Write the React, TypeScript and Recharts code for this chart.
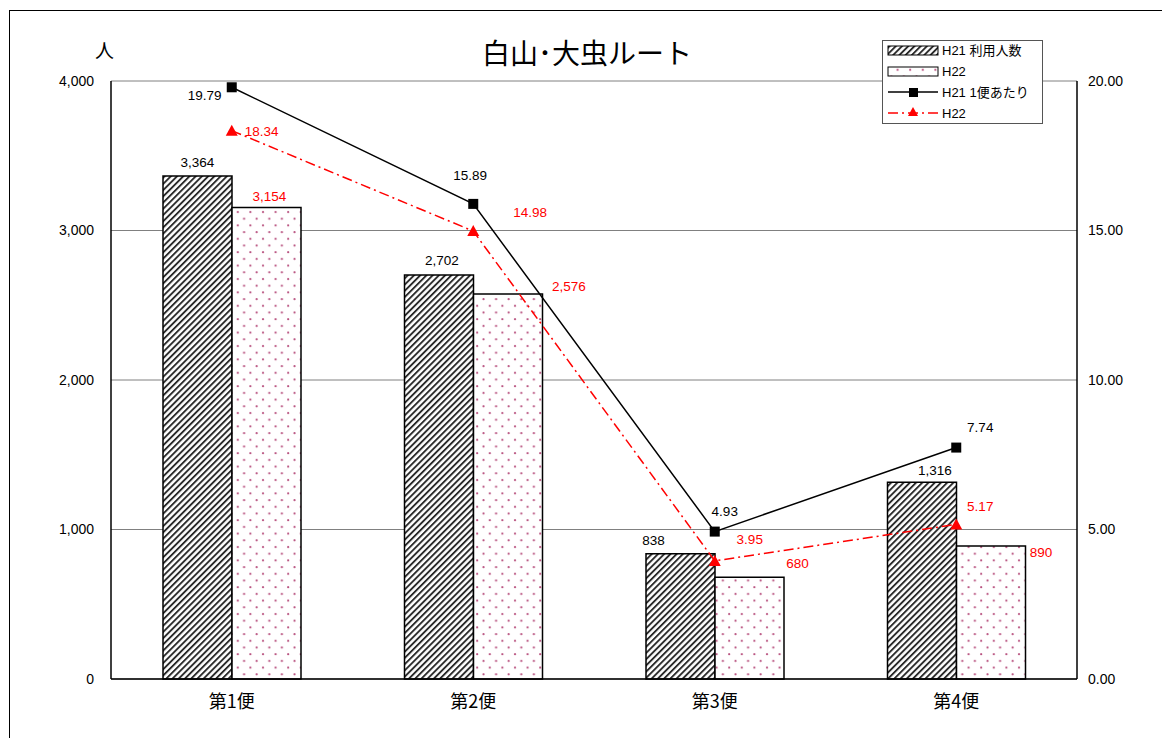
import React from 'react';
import { ComposedChart, Bar, Line, XAxis, YAxis, CartesianGrid, LabelList } from 'recharts';

const categories = ['第1便', '第2便', '第3便', '第4便'];
const usersH21 = [3364, 2702, 838, 1316];
const usersH22 = [3154, 2576, 680, 890];
const perTripH21 = [19.79, 15.89, 4.93, 7.74];
const perTripH22 = [18.34, 14.98, 3.95, 5.17];
const leftTicks = [0, 1000, 2000, 3000, 4000];
const rightTicks = [0, 5, 10, 15, 20];

// label nudges (px), hand-placed like the original
const offH21Bar = [[0, -14], [3, -15], [-27, -13], [13, -12]];
const offH22Bar = [[3, -11], [61, -7], [48, -14], [50, 7]];
const offH21Line = [[-27, 8], [-3, -28], [10, -20], [24, -20]];
const offH22Line = [[30, 1], [57, -19], [35, -21], [24, -18]];

const data = categories.map((c, i) => ({
  name: c,
  h21: usersH21[i],
  h22: usersH22[i],
  p21: perTripH21[i],
  p22: perTripH22[i],
}));

const RED = '#ff0000';
const FONT = '"Liberation Sans", Arial, "Noto Sans CJK JP", sans-serif';

const makeLabel = (offs: number[][], color: string, fmt: (v: number) => string, isBar: boolean) =>
  (props: any) => {
    const { x, y, width, value, index } = props;
    const cx = isBar ? x + width / 2 : x;
    const [dx, dy] = offs[index] || [0, 0];
    return (
      <text x={cx + dx} y={y + dy} textAnchor="middle" dominantBaseline="central"
        fontSize={13.5} fill={color} fontFamily={FONT}>
        {fmt(value)}
      </text>
    );
  };

const fmtInt = (v: number) => v.toLocaleString('en-US');
const fmt2 = (v: number) => v.toFixed(2);

const SquareDot = (props: any) => {
  const { cx, cy, index } = props;
  return <rect key={'s' + index} x={cx - 5} y={cy - 5} width={10} height={10} fill="#000" />;
};
const TriDot = (props: any) => {
  const { cx, cy, index } = props;
  return <path key={'t' + index} d={`M${cx},${cy - 6} L${cx + 6},${cy + 5} L${cx - 6},${cy + 5} Z`} fill={RED} />;
};

const LegendBox = () => (
  <svg width={162} height={85} style={{ display: 'block' }}>
    <rect x={0.5} y={0.5} width={160} height={83} fill="#fff" stroke="#555" />
    <rect x={6} y={6} width={50} height={9} fill="url(#hatch)" stroke="#000" />
    <rect x={6} y={27} width={50} height={9} fill="url(#dots)" stroke="#000" />
    <line x1={6} y1={52} x2={56} y2={52} stroke="#000" strokeWidth={1.5} />
    <rect x={27} y={48} width={9} height={9} fill="#000" />
    <line x1={6} y1={73} x2={56} y2={73} stroke={RED} strokeWidth={1.5} strokeDasharray="10 4 2 4" />
    <path d="M31,67 L36,76 L26,76 Z" fill={RED} />
    <g fontSize={13} fontFamily={FONT} fill="#000">
      <text x={60} y={15}>H21 利用人数</text>
      <text x={60} y={36}>H22</text>
      <text x={60} y={57}>H21 1便あたり</text>
      <text x={60} y={78}>H22</text>
    </g>
  </svg>
);

export default function App() {
  return (
    <div style={{ position: 'relative', width: 1162, height: 730, overflow: 'hidden', fontFamily: FONT }}>
      <div style={{ position: 'absolute', left: 1, top: 2, width: 1200, height: 800, borderLeft: '1px solid #000', borderTop: '1px solid #000' }} />
      <div style={{ position: 'absolute', left: 379, top: 26, width: 400, textAlign: 'center', fontSize: 28, fontFamily: '"Noto Sans CJK JP", sans-serif', lineHeight: '36px' }}>
        白山･大虫ルート
      </div>
      <div style={{ position: 'absolute', left: 87, top: 29, fontSize: 19, fontFamily: '"Noto Sans CJK JP", sans-serif', lineHeight: '26px' }}>人</div>
      <ComposedChart width={1162} height={730} data={data}
        margin={{ top: 73, right: 33, bottom: 29, left: 43 }}
        barCategoryGap={52} barGap={0}
        style={{ position: 'absolute', left: 0, top: 0 }}>
        <defs>
          <pattern id="hatch" patternUnits="userSpaceOnUse" width={4.4} height={4.4} patternTransform="rotate(45)">
            <rect width={4.4} height={4.4} fill="#fff" />
            <rect width={1.9} height={4.4} fill="#2a2a2a" />
          </pattern>
          <pattern id="dots" patternUnits="userSpaceOnUse" width={12.6} height={13.4}>
            <rect width={12.6} height={13.4} fill="#fff" />
            <circle cx={3} cy={3} r={1.1} fill="#b8507e" />
            <circle cx={9.3} cy={9.7} r={1.1} fill="#b8507e" />
          </pattern>
        </defs>
        <CartesianGrid vertical={false} stroke="#808080" yAxisId="left" />
        <XAxis dataKey="name" tickLine={false} tickSize={0} tickMargin={16}
          axisLine={{ stroke: '#000', strokeWidth: 1.5 }}
          tick={{ fontSize: 18, fill: '#000', fontFamily: '"Noto Sans CJK JP", sans-serif' }} height={30} />
        <YAxis yAxisId="left" domain={[0, 4000]} ticks={leftTicks} width={60}
          tickFormatter={fmtInt} tickLine={false} tickSize={0} tickMargin={17}
          axisLine={{ stroke: '#000', strokeWidth: 1.5 }}
          tick={{ fontSize: 14, fill: '#000', fontFamily: FONT }} />
        <YAxis yAxisId="right" orientation="right" domain={[0, 20]} ticks={rightTicks} width={60}
          tickFormatter={fmt2} tickLine={false} tickSize={0} tickMargin={11}
          axisLine={{ stroke: '#000', strokeWidth: 1.5 }}
          tick={{ fontSize: 14, fill: '#000', fontFamily: FONT, textAnchor: 'start' }} />
        <Bar yAxisId="left" dataKey="h21" fill="url(#hatch)" stroke="#000" strokeWidth={1.5} isAnimationActive={false}>
          <LabelList dataKey="h21" content={makeLabel(offH21Bar, '#000', fmtInt, true)} />
        </Bar>
        <Bar yAxisId="left" dataKey="h22" fill="url(#dots)" stroke="#000" strokeWidth={1.5} isAnimationActive={false}>
          <LabelList dataKey="h22" content={makeLabel(offH22Bar, RED, fmtInt, true)} />
        </Bar>
        <Line yAxisId="right" dataKey="p21" stroke="#000" strokeWidth={1.5} dot={SquareDot}
          activeDot={false} isAnimationActive={false}>
          <LabelList dataKey="p21" content={makeLabel(offH21Line, '#000', fmt2, false)} />
        </Line>
        <Line yAxisId="right" dataKey="p22" stroke={RED} strokeWidth={1.5} strokeDasharray="10 4 2 4"
          dot={TriDot} activeDot={false} isAnimationActive={false}>
          <LabelList dataKey="p22" content={makeLabel(offH22Line, RED, fmt2, false)} />
        </Line>
      </ComposedChart>
      <div style={{ position: 'absolute', left: 874, top: 32 }}>
        <LegendBox />
      </div>
    </div>
  );
}
